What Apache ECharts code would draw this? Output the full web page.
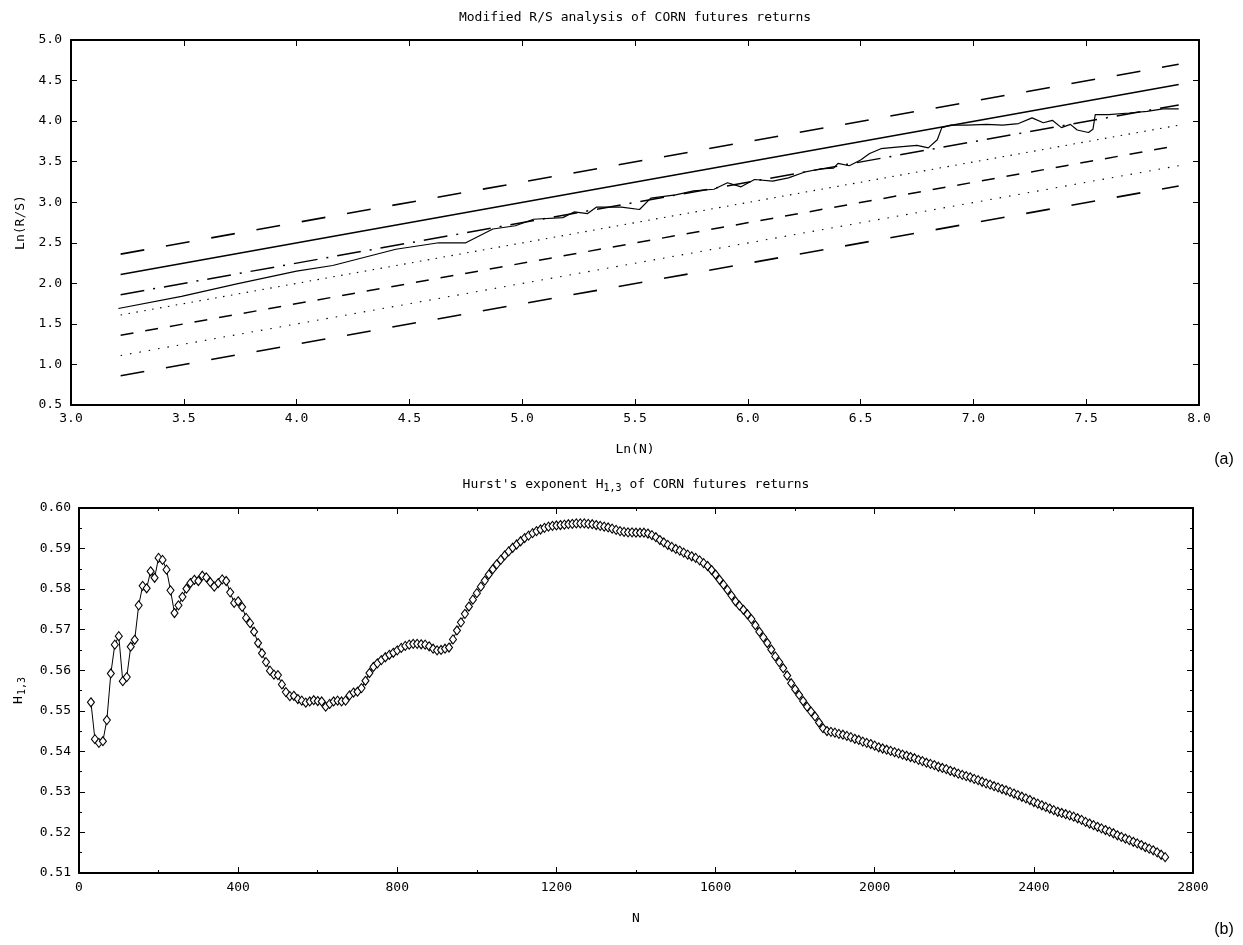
<!DOCTYPE html>
<html>
<head>
<meta charset="utf-8">
<script src="https://cdn.jsdelivr.net/npm/echarts@6/dist/echarts.min.js"></script>
<style>
html,body{margin:0;padding:0;background:#fff;}
#chart{width:1243px;height:945px;}
</style>
</head>
<body>
<div id="chart"></div>
<script>
// ---------- DATA ----------
// Top panel: modified R/S analysis
const lineX = [3.22, 7.91];                       // x-extent of reference lines (Ln(N))
const boundStart = [2.36, 2.11, 1.86, 1.61, 1.36, 1.11, 0.86];  // value at left end
const boundEnd   = [4.70, 4.45, 4.20, 3.95, 3.70, 3.45, 3.20];  // value at right end
const rsX = [3.21,3.49,3.73,4.00,4.16,4.44,4.63,4.75,4.87,4.97,
             5.05,5.18,5.23,5.29,5.33,5.44,5.52,5.57,5.68,5.76,
             5.85,5.91,5.97,6.03,6.11,6.18,6.25,6.32,6.38,6.40,
             6.45,6.50,6.54,6.59,6.66,6.75,6.80,6.84,6.86,6.90,
             6.97,7.06,7.13,7.20,7.26,7.31,7.35,7.39,7.43,7.46,
             7.51,7.53,7.54,7.60,7.69,7.77,7.84,7.91];
const rsY = [1.69,1.84,1.99,2.15,2.22,2.42,2.50,2.50,2.67,2.71,
             2.79,2.81,2.88,2.86,2.94,2.94,2.91,3.05,3.09,3.14,
             3.16,3.24,3.19,3.28,3.26,3.30,3.37,3.41,3.42,3.48,
             3.45,3.52,3.60,3.66,3.68,3.70,3.67,3.77,3.92,3.95,
             3.95,3.96,3.95,3.97,4.04,3.98,4.01,3.92,3.96,3.89,
             3.86,3.90,4.08,4.08,4.10,4.12,4.15,4.15];

// Bottom panel: Hurst exponent H_{1,3}, N = 30, 40, ..., 2730
const nStart = 30, nStep = 10;
const hurst = [
0.5521,0.5430,0.5421,0.5425,0.5477,0.5592,0.5663,0.5684,0.5573,0.5583,
0.5658,0.5675,0.5760,0.5808,0.5802,0.5844,0.5828,0.5877,0.5872,0.5848,
0.5797,0.5741,0.5760,0.5781,0.5801,0.5815,0.5823,0.5820,0.5833,0.5829,
0.5817,0.5806,0.5815,0.5824,0.5820,0.5792,0.5766,0.5770,0.5756,0.5729,
0.5716,0.5695,0.5667,0.5642,0.5620,0.5599,0.5589,0.5588,0.5565,0.5546,
0.5536,0.5537,0.5529,0.5525,0.5520,0.5523,0.5526,0.5524,0.5523,0.5510,
0.5517,0.5523,0.5525,0.5523,0.5525,0.5538,0.5545,0.5547,0.5556,0.5574,
0.5593,0.5608,0.5617,0.5625,0.5632,0.5638,0.5643,0.5649,0.5655,0.5660,
0.5663,0.5665,0.5665,0.5664,0.5663,0.5659,0.5653,0.5649,0.5650,0.5653,
0.5656,0.5676,0.5698,0.5718,0.5739,0.5757,0.5774,0.5790,0.5806,0.5821,
0.5836,0.5849,0.5861,0.5872,0.5883,0.5893,0.5902,0.5910,0.5918,0.5926,
0.5932,0.5938,0.5943,0.5947,0.5951,0.5954,0.5956,0.5957,0.5958,0.5959,
0.5960,0.5961,0.5962,0.5962,0.5962,0.5961,0.5960,0.5958,0.5956,0.5954,
0.5952,0.5949,0.5946,0.5943,0.5941,0.5940,0.5940,0.5939,0.5939,0.5939,
0.5937,0.5933,0.5928,0.5921,0.5915,0.5909,0.5904,0.5899,0.5895,0.5890,
0.5885,0.5881,0.5877,0.5871,0.5864,0.5857,0.5847,0.5836,0.5823,0.5811,
0.5798,0.5784,0.5770,0.5759,0.5749,0.5738,0.5726,0.5711,0.5695,0.5681,
0.5667,0.5651,0.5634,0.5620,0.5605,0.5587,0.5568,0.5553,0.5539,0.5524,
0.5510,0.5498,0.5486,0.5471,0.5457,0.5450,0.5448,0.5446,0.5443,0.5441,
0.5438,0.5435,0.5431,0.5428,0.5424,0.5421,0.5418,0.5414,0.5410,0.5407,
0.5404,0.5401,0.5398,0.5395,0.5392,0.5389,0.5386,0.5383,0.5379,0.5376,
0.5372,0.5369,0.5366,0.5362,0.5359,0.5356,0.5352,0.5349,0.5345,0.5342,
0.5339,0.5336,0.5332,0.5329,0.5325,0.5321,0.5318,0.5314,0.5311,0.5307,
0.5304,0.5300,0.5296,0.5292,0.5288,0.5284,0.5280,0.5275,0.5271,0.5267,
0.5263,0.5259,0.5255,0.5251,0.5248,0.5245,0.5242,0.5239,0.5235,0.5231,
0.5226,0.5222,0.5218,0.5214,0.5210,0.5206,0.5202,0.5198,0.5193,0.5189,
0.5185,0.5181,0.5177,0.5173,0.5169,0.5164,0.5160,0.5156,0.5151,0.5145,
0.5139];

const topTitle = 'Modified R/S analysis of CORN futures returns';
const topXName = 'Ln(N)';
const topYName = 'Ln(R/S)';

// ---------- STYLES ----------
const FONT = 'DejaVu Sans Mono';
const FS = 13;
const boundStyles = [
  {type:[24,22], width:1.6},        // upper long dash
  {type:'solid', width:1.5},        // solid
  {type:[24,9,2,9], width:1.5},     // dash-dot
  {type:[1.5,6.5], width:1.1},      // dotted
  {type:[13,12], width:1.5},        // medium dash
  {type:[1.5,8], width:1.1},        // dotted
  {type:[24,22], width:1.6}         // lower long dash
];

const chart = echarts.init(document.getElementById('chart'), null, {renderer:'canvas'});

const series = [];
boundStart.forEach((s, i) => {
  series.push({
    type:'line', xAxisIndex:0, yAxisIndex:0, showSymbol:false, silent:true,
    data:[[lineX[0], s],[lineX[1], boundEnd[i]]],
    lineStyle:{color:'#000', width:boundStyles[i].width, type:boundStyles[i].type, cap:'butt'},
    z:2
  });
});
series.push({
  type:'line', xAxisIndex:0, yAxisIndex:0, showSymbol:false, silent:true,
  data: rsX.map((x,i)=>[x, rsY[i]]),
  lineStyle:{color:'#000', width:1.2}, z:3
});
series.push({
  type:'line', xAxisIndex:2, yAxisIndex:2, silent:true,
  data: hurst.map((h,i)=>[nStart + i*nStep, h]),
  symbol:'diamond', symbolSize:[7,9], showAllSymbol:true,
  itemStyle:{color:'#fff', borderColor:'#000', borderWidth:1.1},
  lineStyle:{color:'#000', width:1}, z:3
});

const axisLabelStyle = {color:'#000', fontFamily:FONT, fontSize:FS};
const nameStyle = {color:'#000', fontFamily:FONT, fontSize:FS};
function frameAxis(extra){
  return Object.assign({
    type:'value',
    axisLine:{show:true, onZero:false, lineStyle:{color:'#000', width:2}},
    axisTick:{show:true, inside:true, length:6, lineStyle:{color:'#000', width:1}},
    splitLine:{show:false}
  }, extra);
}

const option = {
  animation:false,
  backgroundColor:'#fff',
  grid:[
    {left:71, top:40, width:1128, height:365},
    {left:79, top:508, width:1114, height:365}
  ],
  xAxis:[
    frameAxis({gridIndex:0, position:'bottom', min:3, max:8, interval:0.5,
      axisLabel:Object.assign({margin:7, formatter:v=>v.toFixed(1)}, axisLabelStyle),
      name:topXName, nameLocation:'middle', nameGap:38, nameTextStyle:nameStyle}),
    frameAxis({gridIndex:0, position:'top', min:3, max:8, interval:0.5, axisLabel:{show:false}}),
    frameAxis({gridIndex:1, position:'bottom', min:0, max:2800, interval:400,
      minorTick:{show:true, splitNumber:2, length:3, lineStyle:{color:'#000'}},
      axisLabel:Object.assign({margin:8, formatter:v=>String(v)}, axisLabelStyle),
      name:'N', nameLocation:'middle', nameGap:39, nameTextStyle:nameStyle}),
    frameAxis({gridIndex:1, position:'top', min:0, max:2800, interval:400,
      minorTick:{show:true, splitNumber:2, length:3, lineStyle:{color:'#000'}},
      axisLabel:{show:false}})
  ],
  yAxis:[
    frameAxis({gridIndex:0, position:'left', min:0.5, max:5.0, interval:0.5,
      axisLabel:Object.assign({margin:9, formatter:v=>v.toFixed(1)}, axisLabelStyle),
      name:topYName, nameLocation:'middle', nameGap:44, nameRotate:90, nameTextStyle:nameStyle}),
    frameAxis({gridIndex:0, position:'right', min:0.5, max:5.0, interval:0.5, axisLabel:{show:false}}),
    frameAxis({gridIndex:1, position:'left', min:0.51, max:0.60, interval:0.01,
      minorTick:{show:true, splitNumber:2, length:3, lineStyle:{color:'#000'}},
      axisLabel:Object.assign({margin:8, formatter:v=>v.toFixed(2)}, axisLabelStyle),
      name:'{h|H}{s|1,3}', nameLocation:'middle', nameGap:52, nameRotate:90,
      nameTextStyle:{color:'#000', fontFamily:FONT, fontSize:FS,
        rich:{h:{fontFamily:FONT, fontSize:FS, color:'#000'},
              s:{fontFamily:FONT, fontSize:10, color:'#000', verticalAlign:'bottom', padding:[6,0,0,1]}}}}),
    frameAxis({gridIndex:1, position:'right', min:0.51, max:0.60, interval:0.01,
      minorTick:{show:true, splitNumber:2, length:3, lineStyle:{color:'#000'}},
      axisLabel:{show:false}})
  ],
  graphic:[
    {type:'text', x:635, y:18, style:{text:topTitle, fill:'#000', font:FS + 'px "DejaVu Sans Mono"', textAlign:'center', textVerticalAlign:'middle'}},
    {type:'text', x:636, y:485, style:{
      text:"{t|Hurst's exponent H}{s|1,3}{t| of CORN futures returns}",
      textAlign:'center', textVerticalAlign:'middle',
      rich:{t:{fontFamily:FONT, fontSize:FS, fill:'#000'},
            s:{fontFamily:FONT, fontSize:10, fill:'#000', padding:[6,0,0,0]}}}},
    {type:'text', x:1224, y:460, style:{text:'(a)', fill:'#000', font:'16px "Liberation Sans"', textAlign:'center', textVerticalAlign:'middle'}},
    {type:'text', x:1224, y:930, style:{text:'(b)', fill:'#000', font:'16px "Liberation Sans"', textAlign:'center', textVerticalAlign:'middle'}}
  ],
  series: series
};
chart.setOption(option);
</script>
</body>
</html>
